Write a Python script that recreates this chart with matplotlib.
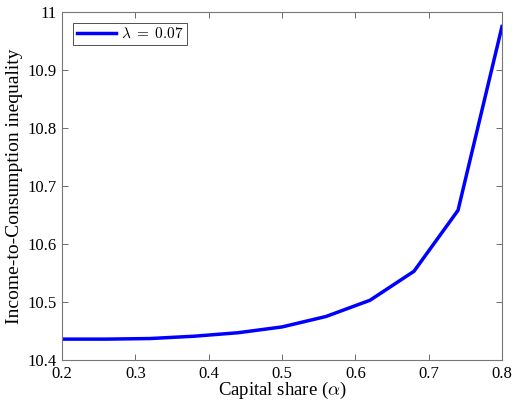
import matplotlib
matplotlib.use("Agg")
import matplotlib.pyplot as plt
import numpy as np

plt.rcParams['font.family'] = ['Liberation Serif', 'DejaVu Serif']
plt.rcParams['mathtext.fontset'] = 'cm'

alpha = [0.2, 0.26, 0.32, 0.38, 0.44, 0.5, 0.56, 0.62, 0.68, 0.74, 0.8]
ineq = [10.436, 10.436, 10.437, 10.441, 10.447, 10.457, 10.475, 10.503, 10.553, 10.658, 10.975]
xticks = [0.2, 0.3, 0.4, 0.5, 0.6, 0.7, 0.8]
yticks = [10.4, 10.5, 10.6, 10.7, 10.8, 10.9, 11]

fig = plt.figure(figsize=(5.12, 4.05), dpi=100)
ax = fig.add_axes([62/512, 45/405, 440/512, 348/405])
ax.plot(np.array(alpha), np.array(ineq), color='#0000ff', lw=2.5, label=r'$\lambda\;=\;0.07$')

ax.set_xlim(0.2, 0.8)
ax.set_ylim(10.4, 11)
ax.set_xticks(xticks)
ax.set_xticklabels([f'{t:g}' for t in xticks])
ax.set_yticks(yticks)
ax.set_yticklabels([f'{t:g}' for t in yticks])
ax.tick_params(direction='in', top=True, right=True, length=4, width=0.6,
               color='#555555', labelsize=12, pad=4)
for s in ax.spines.values():
    s.set_color('#777777')
    s.set_linewidth(0.8)

ax.set_xlabel(r'Capital share ($\alpha$)', fontsize=13.5, labelpad=-1)
ax.set_ylabel('Income-to-Consumption inequality', fontsize=14, labelpad=3)

leg = ax.legend(loc='upper left', fontsize=11, fancybox=False, framealpha=1,
                edgecolor='#333333', handlelength=2.6, borderpad=0.25,
                handletextpad=0.3, borderaxespad=0.7)
leg.get_frame().set_linewidth(0.6)

fig.savefig('out.png', dpi=100)
